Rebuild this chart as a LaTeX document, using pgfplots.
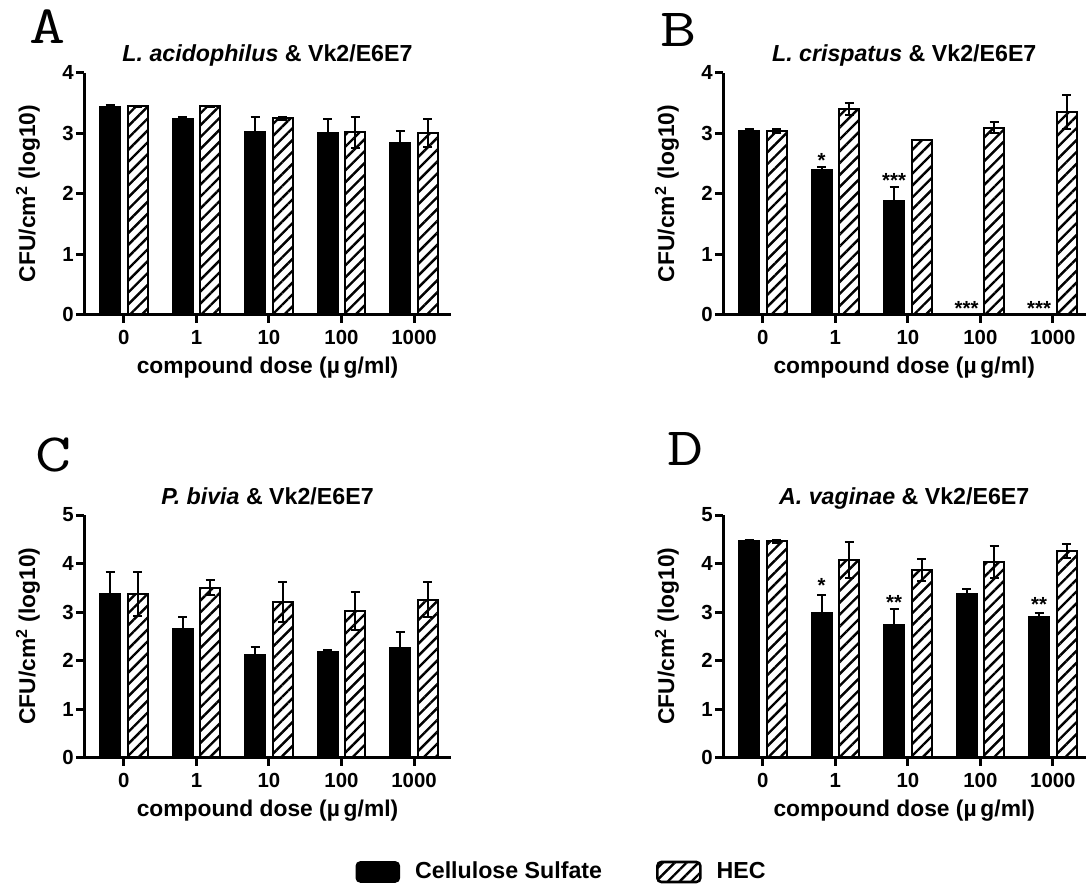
\documentclass[border=0pt]{standalone}
\usepackage{fontspec}
\setmainfont{Liberation Sans}
\usepackage{pgfplots}
\pgfplotsset{compat=1.18}
\usetikzlibrary{patterns.meta}
\newcommand{\tkfont}{\fontsize{10.2}{12}\selectfont\bfseries}
\newcommand{\lbfont}{\fontsize{11.4}{13}\selectfont\bfseries}
\newcommand{\ttlfont}{\fontsize{11.6}{13}\selectfont\bfseries}
\pgfplotsset{
 panel/.style={
  scale only axis, anchor=south west,
  axis x line*=bottom, axis y line*=left, axis line style={-, line width=1.5pt},
  axis on top, clip=false,
  xmin=-0.55, ymin=0,
  xtick={0,...,4}, xticklabels={0,1,10,100,1000},
  xtick align=outside, ytick align=outside,
  major tick length=4pt,
  major tick style={draw=black, line width=1.5pt},
  tick label style={font=\tkfont},
  /pgf/number format/assume math mode=true,
  yticklabel style={inner sep=1pt},
  xticklabel style={inner sep=1pt, yshift=-2pt, text height=7.6pt, text depth=0pt},
  xlabel={compound dose (µ\,g/ml)},
  ylabel={CFU/cm\textsuperscript{2} (log10)},
  every axis x label/.style={at={(axis description cs:0.5,0)}, anchor=base, yshift=-29.5pt, font=\lbfont},
  every axis y label/.style={at={([xshift=-28pt]axis description cs:0,0.5)}, rotate=90, anchor=center, font=\lbfont},
  every axis title/.style={at={(axis description cs:0.5,1)}, anchor=base, yshift=5.5pt, font=\ttlfont},
 },
 blk/.style={ybar, bar width=0.28, bar shift=0pt, fill=black, draw=black, line width=0.8pt,
  error bars/.cd, y dir=both, y explicit,
  error bar style={line width=1pt, black},
  error mark options={rotate=90, mark size=2.3pt, line width=1pt, black}},
 hat/.style={ybar, bar width=0.28, bar shift=0pt, draw=black, line width=1pt,
  pattern={Lines[angle=45,distance=4.2pt,line width=1.2pt]},
  error bars/.cd, y dir=both, y explicit,
  error bar style={line width=1pt, black},
  error mark options={rotate=90, mark size=2.3pt, line width=1pt, black}},
 stars/.style={draw=none, mark=none, nodes near coords, point meta=explicit symbolic,
  every node near coord/.append style={font=\tkfont, anchor=center, inner sep=0pt}},
 tickcomb/.style={ycomb, mark=none, line width=1.5pt, black, forget plot},
}
\begin{document}
\begin{tikzpicture}
\useasboundingbox (0,0) rectangle (543pt,-442pt);

% Panel A
\begin{axis}[panel, at={(42pt,-157.25pt)}, width=183.5pt, height=121pt,
  xmax=4.51, ymax=4, ytick={0,1,2,3,4},
  title={\textit{L. acidophilus} \& Vk2/E6E7}]
\addplot[blk] coordinates {(-0.19,3.44) +- (0,0.02) (0.81,3.24) +- (0,0.03) (1.81,3.02) +- (0,0.24) (2.81,3.00) +- (0,0.23) (3.81,2.84) +- (0,0.20)};
\addplot[hat] coordinates {(0.19,3.44) +- (0,0.01) (1.19,3.44) +- (0,0.01) (2.19,3.24) +- (0,0.03) (3.19,3.01) +- (0,0.25) (4.19,3.00) +- (0,0.23)};
\addplot[tickcomb] coordinates {(0,-0.12) (1,-0.12) (2,-0.12) (3,-0.12) (4,-0.12)};
\end{axis}

% Panel B
\begin{axis}[panel, at={(361.5pt,-157.25pt)}, width=181.25pt, height=121pt,
  xmax=4.45, ymax=4, ytick={0,1,2,3,4},
  title={\textit{L. crispatus} \& Vk2/E6E7}]
\addplot[blk] coordinates {(-0.19,3.03) +- (0,0.03) (0.81,2.39) +- (0,0.05) (1.81,1.88) +- (0,0.23)};
\addplot[hat] coordinates {(0.19,3.03) +- (0,0.03) (1.19,3.39) +- (0,0.10) (2.19,2.89) +- (0,0.0) (3.19,3.09) +- (0,0.09) (4.19,3.35) +- (0,0.28)};
\addplot[stars] coordinates {(0.81,2.54) [*] (1.81,2.21) [***] (2.81,0.10) [***] (3.81,0.10) [***]};
\addplot[tickcomb] coordinates {(0,-0.12) (1,-0.12) (2,-0.12) (3,-0.12) (4,-0.12)};
\end{axis}

% Panel C
\begin{axis}[panel, at={(42pt,-378.75pt)}, width=183.5pt, height=121.25pt,
  xmax=4.51, ymax=5, ytick={0,1,2,3,4,5},
  title={\textit{P. bivia} \& Vk2/E6E7},
  legend columns=2,
  legend image code/.code={\draw[#1, rounded corners=2pt] (0pt,-5pt) rectangle (21.5pt,5pt); \path (27pt,0pt);},
  legend style={at={(1.304,-0.472)}, anchor=center, draw=none, fill=none, font=\ttlfont,
    /tikz/every even column/.append style={column sep=25pt}}]
\addlegendimage{fill=black, draw=black, line width=0.8pt}
\addlegendentry{Cellulose Sulfate}
\addlegendimage{draw=black, line width=1.3pt, pattern={Lines[angle=45,distance=4.2pt,line width=1.2pt]}}
\addlegendentry{HEC}
\addplot[blk] coordinates {(-0.19,3.37) +- (0,0.46) (0.81,2.66) +- (0,0.23) (1.81,2.12) +- (0,0.16) (2.81,2.18) +- (0,0.04) (3.81,2.27) +- (0,0.32)};
\addplot[hat] coordinates {(0.19,3.37) +- (0,0.46) (1.19,3.50) +- (0,0.15) (2.19,3.20) +- (0,0.41) (3.19,3.02) +- (0,0.40) (4.19,3.25) +- (0,0.36)};
\addplot[tickcomb] coordinates {(0,-0.15) (1,-0.15) (2,-0.15) (3,-0.15) (4,-0.15)};
\end{axis}

% Panel D
\begin{axis}[panel, at={(361.5pt,-378.75pt)}, width=181.25pt, height=121.25pt,
  xmax=4.45, ymax=5, ytick={0,1,2,3,4,5},
  title={\textit{A. vaginae} \& Vk2/E6E7}]
\addplot[blk] coordinates {(-0.19,4.46) +- (0,0.03) (0.81,2.98) +- (0,0.38) (1.81,2.74) +- (0,0.32) (2.81,3.37) +- (0,0.10) (3.81,2.90) +- (0,0.07)};
\addplot[hat] coordinates {(0.19,4.46) +- (0,0.03) (1.19,4.07) +- (0,0.37) (2.19,3.86) +- (0,0.23) (3.19,4.03) +- (0,0.33) (4.19,4.26) +- (0,0.14)};
\addplot[stars] coordinates {(0.81,3.55) [*] (1.81,3.20) [**] (3.81,3.16) [**]};
\addplot[tickcomb] coordinates {(0,-0.15) (1,-0.15) (2,-0.15) (3,-0.15) (4,-0.15)};
\end{axis}

\tikzset{pl/.style={font=\fontsize{27}{30}\selectfont\ttfamily, anchor=center, inner sep=0pt, xscale=1.3}}
\node[pl] at (24pt,-13.5pt) {A};
\node[pl] at (339.5pt,-15pt) {B};
\node[pl] at (27pt,-227.5pt) {C};
\node[pl] at (343pt,-224.5pt) {D};
\end{tikzpicture}
\end{document}
